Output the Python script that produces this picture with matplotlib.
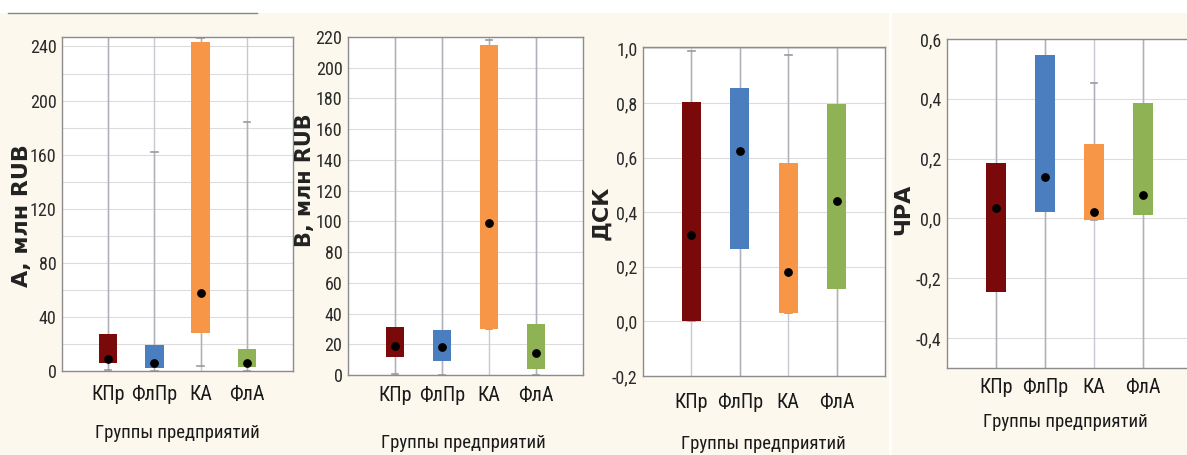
import matplotlib
matplotlib.use("Agg")
import matplotlib.pyplot as plt
from matplotlib.ticker import FuncFormatter, MultipleLocator
from matplotlib.patches import Rectangle
from matplotlib.lines import Line2D


# ── Data ──────────────────────────────────────────────────
groups = ["КПр", "ФлПр", "КА", "ФлА"]
colors = ["#7a0a0a", "#4a7ebf", "#f79646", "#8fb354"]

# A, млн RUB
a_q1 = [6, 2, 28, 3]
a_q3 = [27, 19, 243, 16]
a_med = [9, 6, 58, 6]
a_lo = [1, 0, 4, 0]
a_hi = [300, 162, 246, 184]

# B, млн RUB
b_q1 = [12, 9, 30, 4]
b_q3 = [31, 29, 215, 33]
b_med = [19, 18, 99, 14]
b_lo = [0.5, 0, 30, 0]
b_hi = [300, 300, 218, 300]

# ДСК
d_q1 = [0.0, 0.265, 0.03, 0.12]
d_q3 = [0.805, 0.855, 0.58, 0.795]
d_med = [0.315, 0.625, 0.18, 0.44]
d_lo = [0.0, -0.3, 0.03, -0.3]
d_hi = [0.99, 1.2, 0.975, 1.2]

# ЧРА
c_q1 = [-0.245, 0.02, -0.005, 0.012]
c_q3 = [0.185, 0.545, 0.248, 0.386]
c_med = [0.035, 0.14, 0.02, 0.078]
c_lo = [-0.6, -0.6, -0.005, -0.6]
c_hi = [0.7, 0.7, 0.453, 0.7]

ylabels = ["А, млн RUB", "В, млн RUB", "ДСК", "ЧРА"]
xtitle = "Группы предприятий"


# ── Fonts ─────────────────────────────────────────────────
NARROW = ["Roboto Condensed", "PT Sans Narrow", "DejaVu Sans"]
plt.rcParams["font.family"] = NARROW


# ── Figure ────────────────────────────────────────────────
W, H = 1187, 455
BEIGE = "#fcf8ee"
fig = plt.figure(figsize=(W / 100, H / 100), dpi=100, facecolor=BEIGE)


def px_box(left, top, right, bottom):
    return [left / W, 1 - bottom / H, (right - left) / W, (bottom - top) / H]


# white strip at the top with a thin rule, separator between panels 3 and 4
fig.add_artist(Rectangle((0, 1 - 13 / H), 1, 13 / H, transform=fig.transFigure,
                         facecolor="white", edgecolor="none"))
fig.add_artist(Line2D([8 / W, 257 / W], [1 - 13 / H] * 2, transform=fig.transFigure,
                      color="#888888", lw=1))
fig.add_artist(Line2D([890 / W] * 2, [0, 1 - 13 / H], transform=fig.transFigure,
                      color="#ffffff", lw=2))

panels = [
    dict(box=(62, 37, 293, 371), ylim=(0, 247), major=40, minor=20, dec=False,
         q1=a_q1, q3=a_q3, med=a_med, lo=a_lo, hi=a_hi, xlim=(0, 5), pad=10,
         ylab=(22, 216), ysize=16, xt=(177, 433)),
    dict(box=(348, 37, 583, 375), ylim=(0, 220), major=20, minor=20, dec=False,
         q1=b_q1, q3=b_q3, med=b_med, lo=b_lo, hi=b_hi, xlim=(0, 5), pad=8,
         ylab=(305, 180), ysize=15, xt=(463, 443)),
    dict(box=(643, 47, 885, 376), ylim=(-0.2, 1.005), major=0.2, minor=0.2, dec=True,
         q1=d_q1, q3=d_q3, med=d_med, lo=d_lo, hi=d_hi, xlim=(0, 5), pad=12,
         ylab=(601, 213), ysize=16, xt=(763, 444)),
    dict(box=(947, 39, 1187, 368), ylim=(-0.5, 0.6), major=0.2, minor=0.2, dec=True,
         q1=c_q1, q3=c_q3, med=c_med, lo=c_lo, hi=c_hi, xlim=(0, 4.9), pad=7,
         ylab=(903, 209), ysize=16, xt=(1065, 422)),
]

pos = [1, 2, 3, 4]

for i, p in enumerate(panels):
    ax = fig.add_axes(px_box(*p["box"]))
    ax.set_facecolor("white")
    ax.set_xlim(*p["xlim"])
    ax.set_ylim(*p["ylim"])

    # grid: horizontal at every minor step, vertical at each group
    ax.yaxis.set_major_locator(MultipleLocator(p["major"]))
    ax.yaxis.set_minor_locator(MultipleLocator(p["minor"]))
    ax.grid(axis="y", which="both", color="#dcdcdc", lw=0.8)
    for x in pos:
        ax.axvline(x, color="#c8c8d0", lw=1.0, zorder=1)
    ax.set_axisbelow(True)

    # whiskers with small caps
    for x, lo, hi in zip(pos, p["lo"], p["hi"]):
        ax.plot([x, x], [lo, hi], color="#b0b0b8", lw=1.0, zorder=1.5)
        for y in (lo, hi):
            ax.plot([x - 0.07, x + 0.07], [y, y], color="#9a9aa0", lw=1.2, zorder=1.5)

    # boxes
    ax.bar(pos, [t - b for t, b in zip(p["q3"], p["q1"])], bottom=p["q1"],
           width=0.4, color=colors, zorder=3)
    # median dots
    ax.scatter(pos, p["med"], s=28, color="black", zorder=4)

    ax.set_xticks(pos)
    ax.set_xticklabels(groups, fontsize=14.5, color="#1a1a1a")
    ax.tick_params(axis="x", length=0, pad=p["pad"])
    ax.tick_params(axis="y", which="both", length=0, pad=4, labelsize=13,
                   labelcolor="#2a2a2a")
    if p["dec"]:
        ax.yaxis.set_major_formatter(FuncFormatter(lambda v, _: f"{v:.1f}".replace(".", ",")))

    for s in ax.spines.values():
        s.set_color("#8c8c8c")
        s.set_linewidth(1.0)
    if i == 3:
        ax.spines["right"].set_visible(False)

    fig.text(p["ylab"][0] / W, 1 - p["ylab"][1] / H, ylabels[i], rotation=90,
             ha="center", va="center", fontsize=p["ysize"], fontweight="bold",
             family="DejaVu Sans", color="#222222")
    fig.text(p["xt"][0] / W, 1 - p["xt"][1] / H, xtitle, ha="center", va="center",
             fontsize=13.5, color="#1a1a1a")

fig.savefig("out.png", dpi=100, facecolor=BEIGE)
